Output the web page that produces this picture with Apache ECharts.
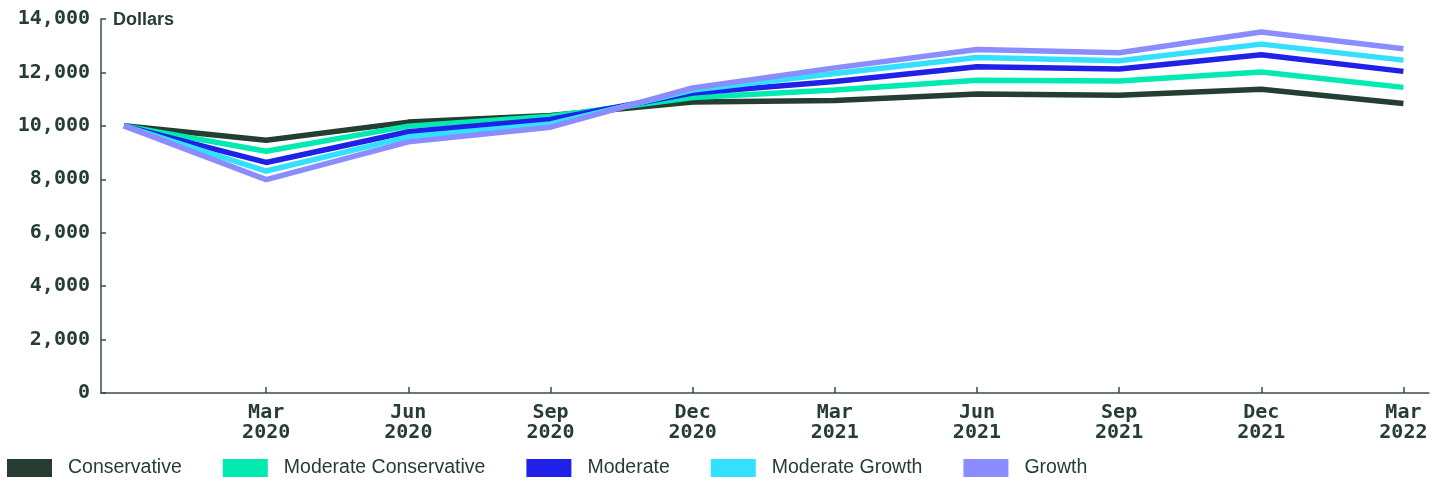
<!DOCTYPE html>
<html>
<head>
<meta charset="utf-8">
<script src="https://cdn.jsdelivr.net/npm/echarts@6/dist/echarts.min.js"></script>
<style>
html,body{margin:0;padding:0;background:#fff;}
#chart{width:1443px;height:481px;}
</style>
</head>
<body>
<div id="chart"></div>
<script>
const categories = ['Dec 2019','Mar 2020','Jun 2020','Sep 2020','Dec 2020','Mar 2021','Jun 2021','Sep 2021','Dec 2021','Mar 2022'];
const tickLabels = ['', 'Mar\n2020','Jun\n2020','Sep\n2020','Dec\n2020','Mar\n2021','Jun\n2021','Sep\n2021','Dec\n2021','Mar\n2022'];
const conservative = [10000, 9460, 10140, 10390, 10890, 10950, 11190, 11150, 11370, 10840];
const moderateConservative = [10000, 9050, 9990, 10360, 11060, 11340, 11710, 11680, 12020, 11440];
const moderate = [10000, 8630, 9780, 10240, 11230, 11660, 12210, 12130, 12660, 12040];
const moderateGrowth = [10000, 8310, 9590, 10070, 11340, 11960, 12560, 12440, 13060, 12460];
const growth = [10000, 7990, 9400, 9950, 11420, 12170, 12860, 12740, 13510, 12890];
const seriesNames = ['Conservative','Moderate Conservative','Moderate','Moderate Growth','Growth'];
const seriesValues = [conservative, moderateConservative, moderate, moderateGrowth, growth];
const colors = ['#263d31','#00eab2','#2020e8','#33e0ff','#8a8cff'];
const yTicks = [0,2000,4000,6000,8000,10000,12000,14000];

const ink = '#263d31';
const chart = echarts.init(document.getElementById('chart'));
const tickIdx = categories.map((c,i)=>i).slice(1);
chart.setOption({
  animation: false,
  color: colors,
  title: {
    text: 'Dollars', left: 113, top: 11, padding: 0,
    textStyle: {fontFamily: 'Liberation Sans', fontWeight: 'bold', fontSize: 18, color: ink}
  },
  grid: {left: 101, right: 14, top: 19, bottom: 88, containLabel: false},
  legend: {
    left: 7, top: 458, padding: 0, itemWidth: 45, itemHeight: 18, itemGap: 41, icon: 'rect',
    textStyle: {fontFamily: 'Liberation Sans', fontSize: 19.5, color: ink, padding: [0,0,0,11]},
    data: seriesNames
  },
  xAxis: {
    type: 'value', min: -0.162, max: 9.18,
    axisLine: {onZero: false, lineStyle: {color: '#3a4d44', width: 1.5}},
    axisTick: {inside: true, length: 6, customValues: tickIdx, lineStyle: {color: '#3a4d44', width: 1.5}},
    splitLine: {show: false},
    axisLabel: {
      customValues: tickIdx, margin: 10,
      formatter: v => tickLabels[Math.round(v)] || '',
      fontFamily: 'DejaVu Sans Mono', fontWeight: 'bold', fontSize: 20, lineHeight: 20, color: ink
    }
  },
  yAxis: {
    type: 'value', min: yTicks[0], max: yTicks[yTicks.length-1], interval: 2000,
    axisLine: {show: true, onZero: false, lineStyle: {color: '#3a4d44', width: 1.5}},
    axisTick: {show: true, inside: true, length: 5, lineStyle: {color: '#3a4d44', width: 1.5}},
    splitLine: {show: false},
    axisLabel: {
      margin: 11, formatter: v => v.toLocaleString('en-US'),
      fontFamily: 'DejaVu Sans Mono', fontWeight: 'bold', fontSize: 20, color: ink
    }
  },
  series: seriesNames.map((n,k) => ({
    name: n, type: 'line', showSymbol: false, symbol: 'none',
    lineStyle: {width: 5.5, color: colors[k]},
    data: seriesValues[k].map((v,i)=>[i,v])
  }))
});
</script>
</body>
</html>
